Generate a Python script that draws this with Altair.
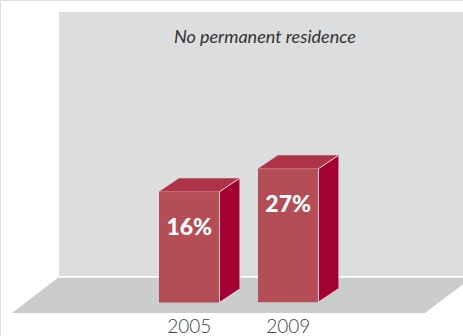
import altair as alt
import pandas as pd

# Survey values
years = ["2005", "2009"]
shares = [16, 27]
bar_bases = [-37.0, -36.8]
title_text = "No permanent residence"

# Scene layout, in scale units (x: one bar width, y: percentage points)
SLOT_STEP = 1.636
BAR_WIDTH = 1.0
DEPTH_X = 0.33
DEPTH_Y = 6.4
X_SCALE = alt.Scale(domain=[-2.628, 5.025], range=[0, 463], nice=False, zero=False)
Y_SCALE = alt.Scale(domain=[-53.0, 107.7], range=[336, 0], nice=False, zero=False)


def x_enc(field="x"):
    return alt.X(f"{field}:Q", scale=X_SCALE, axis=None)


def y_enc(field="y"):
    return alt.Y(f"{field}:Q", scale=Y_SCALE, axis=None)


def band(rows, color):
    """Filled region between the y and y2 outlines, one shape per face id."""
    return (
        alt.Chart(pd.DataFrame(rows, columns=["face", "x", "y", "y2"]))
        .mark_area(color=color, interpolate="linear", opacity=1)
        .encode(x=x_enc(), y=y_enc(), y2=alt.Y2("y2:Q"), detail="face:N")
    )


def edge(rows, color, width):
    return (
        alt.Chart(pd.DataFrame(rows, columns=["face", "x", "y"]))
        .mark_line(color=color, strokeWidth=width)
        .encode(x=x_enc(), y=y_enc(), detail="face:N")
    )


# Back wall and floor of the stage
wall = band([("w", -1.653, 102.0, -24.3), ("w", 5.025, 102.0, -24.3)], "#dcdddf")
floor = band(
    [
        ("f", -2.43, -42.0, -42.0),
        ("f", -1.67, -25.2, -42.0),
        ("f", 4.397, -25.2, -42.0),
        ("f", 5.025, -25.2, -28.2),
    ],
    "#cbccce",
)

front, side, top, seams, top_seams = [], [], [], [], []
for i, (year, value, base) in enumerate(zip(years, shares, bar_bases)):
    left = i * SLOT_STEP
    right = left + BAR_WIDTH
    front += [(year, left, value, base), (year, right, value, base)]
    side += [
        (year, right, value, base),
        (year, right + DEPTH_X, value + DEPTH_Y, base + DEPTH_Y),
    ]
    top += [
        (year, left, value, value),
        (year, left + DEPTH_X, value + DEPTH_Y, value),
        (year, right, value + DEPTH_Y, value),
        (year, right + DEPTH_X, value + DEPTH_Y, value + DEPTH_Y),
    ]
    seams += [
        (year + "a", right, base),
        (year + "a", right, value),
        (year + "b", right, value),
        (year + "b", right + DEPTH_X, value + DEPTH_Y),
        (year + "c", right, base),
        (year + "c", right + DEPTH_X, base + DEPTH_Y),
    ]
    top_seams += [(year, left, value), (year, right, value)]

centers = [i * SLOT_STEP + BAR_WIDTH / 2 for i in range(len(years))]
labels = pd.DataFrame(
    {
        "x": centers,
        "y": shares,
        "base": [min(bar_bases)] * len(years),
        "pct": [f"{v}%" for v in shares],
        "year": years,
    }
)

value_text = (
    alt.Chart(labels)
    .mark_text(
        font="Lato", fontSize=23, fontWeight=900, color="white",
        baseline="alphabetic", align="center", dy=43,
    )
    .encode(x=x_enc(), y=y_enc(), text="pct:N")
)
year_text = (
    alt.Chart(labels)
    .mark_text(
        font="Lato", fontSize=19, fontWeight=300, color="#444444",
        baseline="alphabetic", align="center", dy=30,
    )
    .encode(x=x_enc(), y=y_enc("base"), text="year:N")
)
title = (
    alt.Chart(pd.DataFrame({"x": [1.75], "y": [16 + 149 / 2.09], "t": [title_text]}))
    .mark_text(
        font="Lato", fontSize=18, fontStyle="italic", color="#333333",
        baseline="alphabetic", align="center",
    )
    .encode(x=x_enc(), y=y_enc(), text="t:N")
)

chart = (
    alt.layer(
        wall,
        floor,
        band(side, "#a50034"),
        band(top, "#ae3346"),
        band(front, "#b54d56"),
        edge(top_seams, "#c8737b", 0.8),
        edge(seams, "#f3dfe2", 0.9),
        value_text,
        year_text,
        title,
    )
    .properties(width=463, height=336, padding=0, autosize=alt.AutoSizeParams(type="none"))
    .configure_view(stroke=None)
    .configure(background="white")
)

chart.save("out.html", embed_options={"renderer": "svg", "actions": False})
